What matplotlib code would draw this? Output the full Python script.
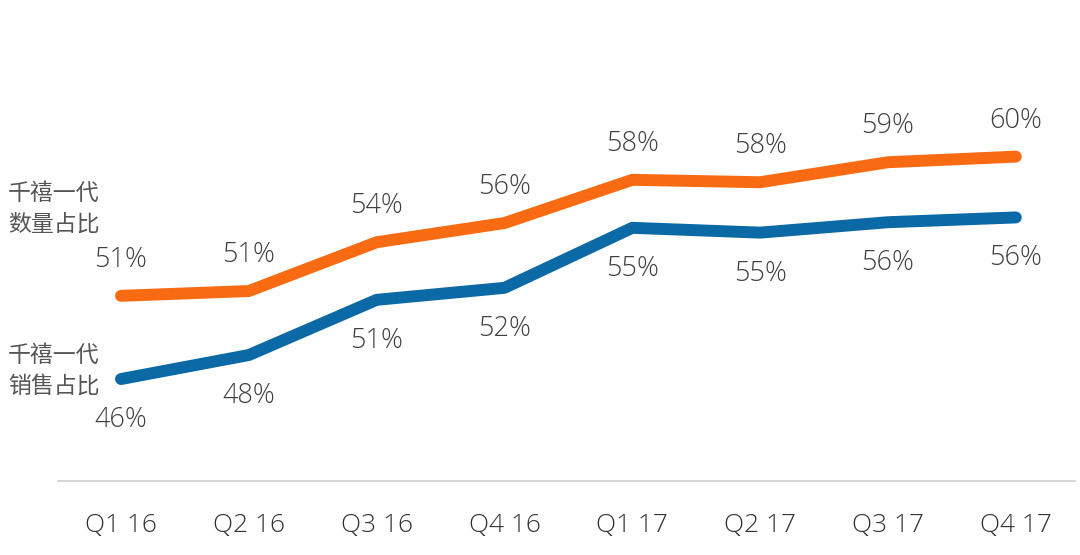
import matplotlib.pyplot as plt

plt.rcParams['font.family'] = ['Open Sans', 'Noto Sans CJK SC', 'DejaVu Sans']

quarters = ['Q1 16', 'Q2 16', 'Q3 16', 'Q4 16', 'Q1 17', 'Q2 17', 'Q3 17', 'Q4 17']
# values as drawn (line positions), and the labels printed on the chart
count_share = [51.2, 51.5, 54.55, 55.75, 58.45, 58.3, 59.55, 59.9]
sales_share = [46.0, 47.5, 50.95, 51.7, 55.45, 55.15, 55.8, 56.1]
count_labels = ['51%', '51%', '54%', '56%', '58%', '58%', '59%', '60%']
sales_labels = ['46%', '48%', '51%', '52%', '55%', '55%', '56%', '56%']
series_names = ['千禧一代\n数量占比', '千禧一代\n销售占比']

orange = '#F96B12'
blue = '#0B69A5'
txt = '#404040'

fig = plt.figure(figsize=(10.8, 5.55), dpi=100)
ax = fig.add_axes([0.0537, 0.1333, 0.9413, 0.8667])

x = list(range(len(quarters)))
ax.plot(x, count_share, color=orange, lw=8.6, solid_capstyle='round', solid_joinstyle='round')
ax.plot(x, sales_share, color=blue, lw=8.6, solid_capstyle='round', solid_joinstyle='round')

for i in x:
    ax.annotate(count_labels[i], (i, count_share[i]), xytext=(0, 26), textcoords='offset points',
                ha='center', va='center', fontsize=19.5, color=txt, fontweight='light')
    ax.annotate(sales_labels[i], (i, sales_share[i]), xytext=(0, -29.5), textcoords='offset points',
                ha='center', va='center', fontsize=19.5, color=txt, fontweight='light')

# series names on the left
fig.text(8 / 1080, 1 - 209 / 555, series_names[0], ha='left', va='center', fontsize=16.5,
         color='#555555', linespacing=1.35, fontweight='light')
fig.text(8 / 1080, 1 - 371 / 555, series_names[1], ha='left', va='center', fontsize=16.5,
         color='#555555', linespacing=1.35, fontweight='light')

ax.set_xlim(-0.493, 7.46)
ax.set_ylim(39.625, 69.69)
ax.set_xticks(x)
ax.set_xticklabels(quarters, fontsize=19, color='#333333', fontweight='light')
ax.tick_params(axis='x', length=0, pad=23)
ax.set_yticks([])
for s in ['top', 'right', 'left']:
    ax.spines[s].set_visible(False)
ax.spines['bottom'].set_color('#d0d0d0')
ax.spines['bottom'].set_linewidth(1.2)

plt.savefig('out.png', dpi=100)
